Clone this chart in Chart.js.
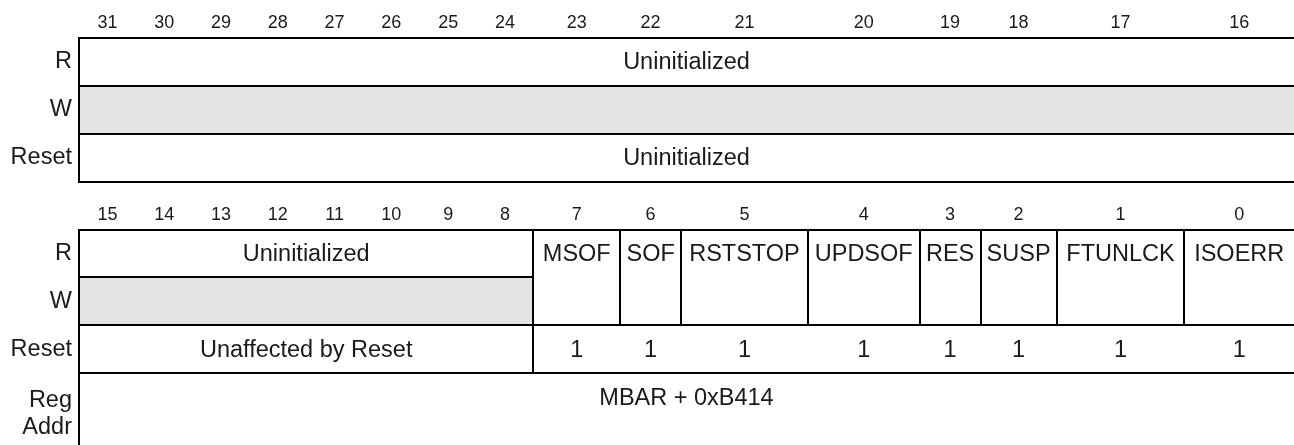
<!DOCTYPE html>
<html>
<head>
<meta charset="utf-8">
<script src="https://cdn.jsdelivr.net/npm/chart.js@4.4.1/dist/chart.umd.min.js"></script>
<style>
  html, body { margin: 0; padding: 0; background: #fff; }
  #wrap { width: 1294px; height: 445px; }
</style>
</head>
<body>
<div id="wrap"><canvas id="regCanvas"></canvas></div>
<script>
// Register layout (bit columns, fields, reset values)
const bitsHigh = [31, 30, 29, 28, 27, 26, 25, 24, 23, 22, 21, 20, 19, 18, 17, 16];
const bitsLow = [15, 14, 13, 12, 11, 10, 9, 8, 7, 6, 5, 4, 3, 2, 1, 0];
// relative width of each bit column (same for both halves)
const columnWidths = [1, 1, 1, 1, 1, 1, 1, 1, 1.53, 1.07, 2.235, 1.965, 1.077, 1.336, 2.251, 1.93];

const highFieldNames = ["Uninitialized"];
const highFieldBits = [16];
const highFieldReserved = [true];
const highResetValues = ["Uninitialized"];

const lowFieldNames = ["Uninitialized", "MSOF", "SOF", "RSTSTOP", "UPDSOF", "RES", "SUSP", "FTUNLCK", "ISOERR"];
const lowFieldBits = [8, 1, 1, 1, 1, 1, 1, 1, 1];
const lowFieldReserved = [true, false, false, false, false, false, false, false, false];
const lowResetValues = ["Unaffected by Reset", "1", "1", "1", "1", "1", "1", "1", "1"];

const rowLabels = ["R", "W", "Reset", "R", "W", "Reset", ["Reg", "Addr"]];
const rowCenters = [0.5, 1.5, 2.5, 4.5, 5.5, 6.5, 7.85];
const regAddress = "MBAR + 0xB414";

const FONT = "'Liberation Sans', Arial, Helvetica, sans-serif";
const TEXT_COLOR = "#1a1a1a";
const GRAY = "#e4e4e4";

const columnEdges = [0];
columnWidths.forEach((w) => columnEdges.push(columnEdges[columnEdges.length - 1] + w));
const totalWidth = columnEdges[columnEdges.length - 1];

const fieldEdges = (spans) => {
  const edges = [0];
  let bit = 0;
  spans.forEach((n) => {
    bit += n;
    edges.push(columnEdges[bit]);
  });
  return edges;
};

const registerPlugin = {
  id: "registerPlugin",
  afterDraw(chart) {
    const { ctx } = chart;
    const x = chart.scales.x;
    const y = chart.scales.y;
    const px = (v) => Math.round(x.getPixelForValue(v));
    const py = (v) => Math.round(y.getPixelForValue(v));
    const yBottom = y.max;

    const hLine = (v, x0, x1) => {
      ctx.beginPath();
      ctx.moveTo(px(x0) - 1, py(v));
      ctx.lineTo(px(x1) + 1, py(v));
      ctx.stroke();
    };
    const vLine = (v, y0, y1) => {
      ctx.beginPath();
      ctx.moveTo(px(v), py(y0));
      ctx.lineTo(px(v), py(y1));
      ctx.stroke();
    };
    const text = (str, xv, yv, size) => {
      ctx.font = size + "px " + FONT;
      ctx.fillStyle = TEXT_COLOR;
      ctx.textAlign = "center";
      ctx.textBaseline = "middle";
      ctx.fillText(str, x.getPixelForValue(xv), y.getPixelForValue(yv) + 1);
    };

    const drawSection = (top, bits, names, spans, reserved, resets, bottom) => {
      const edges = fieldEdges(spans);
      ctx.save();

      // gray write row for reserved fields
      ctx.fillStyle = GRAY;
      names.forEach((_, i) => {
        if (reserved[i]) {
          ctx.fillRect(px(edges[i]), py(top + 1), px(edges[i + 1]) - px(edges[i]), py(top + 2) - py(top + 1));
        }
      });

      ctx.strokeStyle = "#000";
      ctx.lineWidth = 2;
      hLine(top, 0, totalWidth);
      hLine(top + 2, 0, totalWidth);
      hLine(top + 3, 0, totalWidth);
      names.forEach((_, i) => {
        if (reserved[i]) hLine(top + 1, edges[i], edges[i + 1]);
      });
      vLine(0, top, bottom);
      for (let i = 1; i < names.length; i++) {
        vLine(edges[i], top, top + 2);
        if (reserved[i] !== reserved[i - 1]) vLine(edges[i], top + 2, top + 3);
      }

      // bit numbers
      bits.forEach((b, i) => {
        text(String(b), (columnEdges[i] + columnEdges[i + 1]) / 2, top - 0.33, 18);
      });

      // field names + reset values
      names.forEach((name, i) => {
        text(name, (edges[i] + edges[i + 1]) / 2, top + 0.5, 23.5);
      });
      resets.forEach((val, i) => {
        text(val, (edges[i] + edges[i + 1]) / 2, top + 2.5, 23.5);
      });
      ctx.restore();
    };

    drawSection(0, bitsHigh, highFieldNames, highFieldBits, highFieldReserved, highResetValues, 3);
    drawSection(4, bitsLow, lowFieldNames, lowFieldBits, lowFieldReserved, lowResetValues, yBottom);

    text(regAddress, totalWidth / 2, 7.5, 23.5);
  },
};

const regChart = new Chart(document.getElementById("regCanvas"), {
  type: "scatter",
  data: { datasets: [{ data: [] }] },
  options: {
    responsive: true,
    maintainAspectRatio: false,
    animation: false,
    events: [],
    layout: { padding: { top: 38, right: -2, bottom: 0, left: 0 } },
    plugins: { legend: { display: false }, tooltip: { enabled: false } },
    scales: {
      x: { type: "linear", min: 0, max: totalWidth, display: false },
      y: {
        type: "linear",
        min: 0,
        max: 8.5,
        reverse: true,
        border: { display: false },
        grid: { display: false, drawTicks: false },
        afterBuildTicks: (scale) => {
          scale.ticks = rowCenters.map((v) => ({ value: v }));
        },
        afterFit: (scale) => {
          // fixed label column, no extra room reserved for the edge labels
          scale.width = 79;
          scale.paddingTop = 0;
          scale.paddingBottom = 0;
        },
        ticks: {
          autoSkip: false,
          padding: 7,
          color: TEXT_COLOR,
          font: { family: FONT, size: 23.5, lineHeight: 1.15 },
          callback: (value, index) => rowLabels[index],
        },
      },
    },
  },
  plugins: [registerPlugin],
});
</script>
</body>
</html>
